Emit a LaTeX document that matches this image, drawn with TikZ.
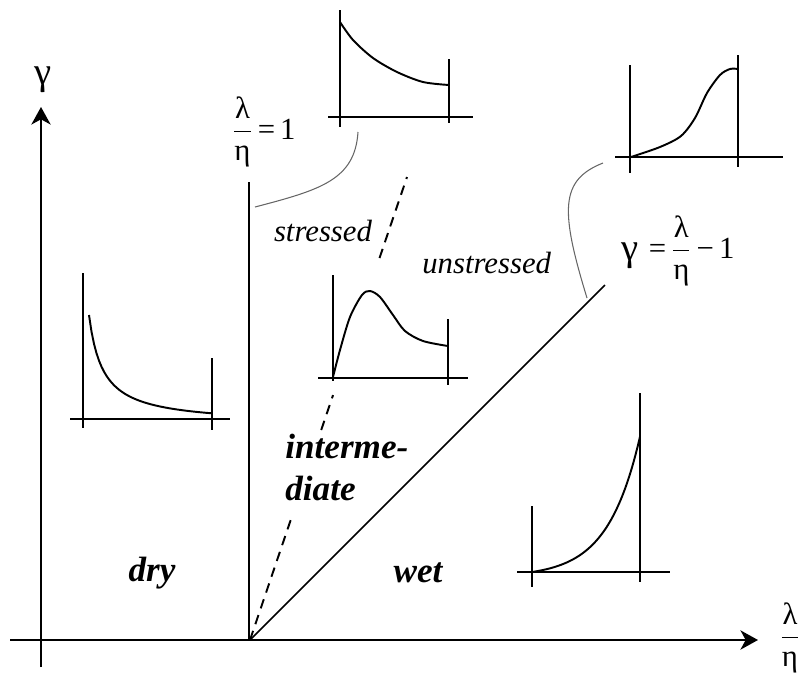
\documentclass[tikz,border=0pt]{standalone}
\usepackage{fontspec}
\setmainfont{Liberation Serif}
\usetikzlibrary{arrows.meta,calc}
\newcommand\biggam{{\fontsize{22}{24}\selectfont γ}}

\begin{document}
\begin{tikzpicture}[
  x=0.02cm, y=-0.02cm,
  ax/.style={-{Stealth[length=10pt,width=11pt,inset=3pt]}, line width=1.1pt},
  bound/.style={line width=0.9pt},
  split/.style={line width=1.1pt, dash pattern=on 5.5pt off 4pt},
  frame/.style={line width=1.1pt},
  curve/.style={line width=1.1pt},
  lead/.style={gray!80!black, line width=0.6pt},
  zone/.style={font=\fontsize{20}{24}\selectfont\bfseries\itshape, inner sep=0pt},
  note/.style={font=\fontsize{17.5}{20}\selectfont\itshape, inner sep=0pt},
  eq/.style={font=\fontsize{17.5}{20}\selectfont, inner sep=0pt},
]
\useasboundingbox (0,0) rectangle (806,677);

% === MAIN AXES ===
\coordinate (O) at (250,640);
\coordinate (ybot) at (41,667);
\coordinate (ytop) at (41,107);
\coordinate (xleft) at (10,640);
\coordinate (xright) at (758,640);
\draw[ax] (ybot) -- (ytop);
\draw[ax] (xleft) -- (xright);
\node[eq] (gam) at (43,80) {\biggam};
\node[eq] (ratio) at (790,638) {$\displaystyle\frac{\hbox{λ}}{\hbox{η}}$};

% === REGION BOUNDARIES ===
\coordinate (vtop) at (249,182);
\coordinate (vbot) at (249,640);
\coordinate (dtop) at (605,285);
\coordinate (stop) at (407,177);
\draw[bound] (vtop) -- (vbot);
\draw[bound] (O) -- (dtop);
\draw[split] (O) -- ($(O)!0.27!(stop)$);
\draw[split] ($(O)!0.4536!(stop)$) -- ($(O)!0.529!(stop)$);
\draw[split] ($(O)!0.825!(stop)$) -- (stop);

\node[eq] (one) at (264,132) {$\displaystyle\frac{\hbox{λ}}{\hbox{η}}$\,=\,1};
\node[eq] (wetline) at (678,251) {\raisebox{-1pt}{\biggam}\,\,=\,$\displaystyle\frac{\hbox{λ}}{\hbox{η}}$\,−\,1};

% === REGION LABELS ===
\node[note, anchor=base] (str) at (323,241) {stressed};
\node[note, anchor=base west] (unstr) at (422,273) {unstressed};
\node[zone, anchor=base west] (inter1) at (285,458) {interme-};
\node[zone, anchor=base west] (inter2) at (285,500) {diate};
\node[zone, anchor=base] (dry) at (152,581) {dry};
\node[zone, anchor=base] (wet) at (418,582) {wet};

% === INSET: dry ===
\draw[frame] (83,273) -- (83,428);
\draw[frame] (70,419) -- (230,419);
\draw[frame] (212,358) -- (212,430);
\draw[curve] plot[domain=89:212, samples=50] ({\x},{424.5-1533/(\x-75)});

% === INSET: stressed ===
\draw[frame] (340,10) -- (340,127);
\draw[frame] (328,117) -- (473,117);
\draw[frame] (449,59) -- (449,123);
\draw[curve] plot[smooth] coordinates {(340,22)(353,40)(373,58)(397,72)(423,82)(449,85)};

% === INSET: intermediate ===
\draw[frame] (333,275) -- (333,381);
\draw[frame] (318,378) -- (468,378);
\draw[frame] (448,319) -- (448,385);
\draw[curve] plot[smooth] coordinates {(333,377)(340,350)(350,317)(362,295)(370,291)(380,297)(393,315)(405,331)(423,341)(448,346)};

% === INSET: unstressed ===
\draw[frame] (630,65) -- (630,173);
\draw[frame] (615,157) -- (783,157);
\draw[frame] (738,55) -- (738,167);
\draw[curve] plot[smooth] coordinates {(631,157)(660,147)(681,136)(695,118)(707,93)(720,75)(730,69)(738,69)};

% === INSET: wet ===
\draw[frame] (532,506) -- (532,587);
\draw[frame] (517,572) -- (670,572);
\draw[frame] (640,393) -- (640,582);
\draw[curve] plot[domain=0:108, samples=50] ({532+\x},{572-4.93*(exp(0.031*\x)-1)});

% === LEADERS ===
\coordinate (la) at (255,207);
\coordinate (lb) at (358,132);
\coordinate (lc) at (587,298);
\coordinate (ld) at (603,163);
\draw[lead] (la) .. controls (320,190) and (355,180) .. (lb);
\draw[lead] (lc) .. controls (560,210) and (560,180) .. (ld);
\end{tikzpicture}
\end{document}
